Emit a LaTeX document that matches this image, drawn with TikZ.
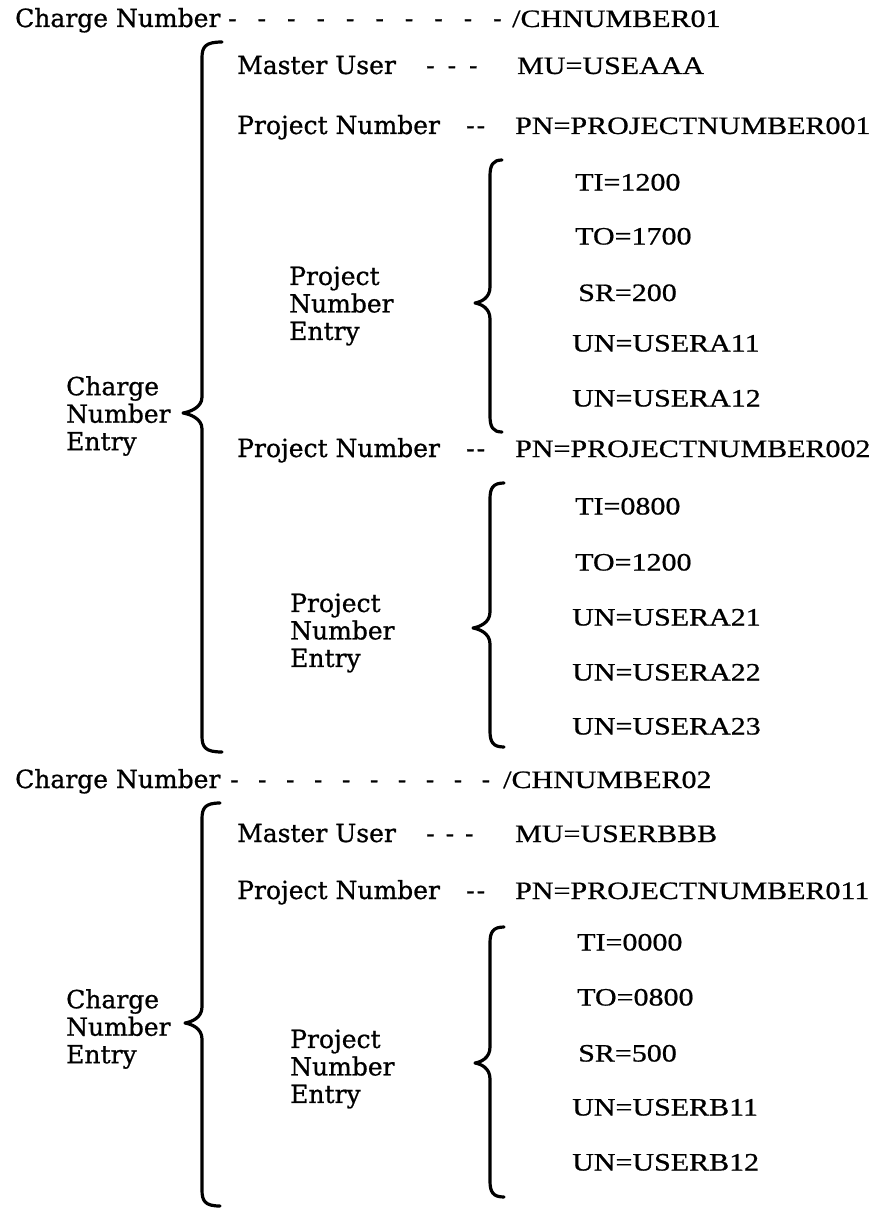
\documentclass[tikz,border=0pt]{standalone}
\usepackage{fontspec}
\newfontfamily\labfont[FakeBold=0.8]{DejaVu Serif}
\newfontfamily\valfont[FakeStretch=1.2,FakeBold=0.7]{Liberation Serif}
\newcommand\curlyb[6]{%
  \draw[brc] (#1+#5,#2) .. controls (#1+3,#2) and (#1,#2+5) .. (#1,#2+16)
    -- (#1,#3-16) .. controls (#1,#3-5) and (#1-#6+6,#3-1) .. (#1-#6,#3)
    .. controls (#1-#6+6,#3+1) and (#1,#3+5) .. (#1,#3+16)
    -- (#1,#4-16) .. controls (#1,#4-5) and (#1+3,#4) .. (#1+#5,#4);}
\tikzset{
  lab/.style={font=\labfont\fontsize{25}{27.5}\selectfont, anchor=base west, inner sep=0pt},
  lab3/.style={font=\labfont\fontsize{25}{27.5}\selectfont, anchor=west, inner sep=0pt, align=left},
  val/.style={font=\valfont\fontsize{25}{30}\selectfont, anchor=base west, inner sep=0pt},
  brc/.style={line width=3.2pt, line cap=round, line join=round},
}
\begin{document}
\begin{tikzpicture}[x=1pt,y=-1pt]
\useasboundingbox[fill=white] (0,0) rectangle (890,1209);

% ---------- first charge number ----------
\node[lab] (cn1) at (15,27) {Charge Number};
\node[lab] (cn1d) at (228,27) {\spaceskip=21pt\relax - - - - - - - - - -};
\node[val] (cn1v) at (512,27) {/CHNUMBER01};

\curlyb{202}{42}{413}{752}{20}{19}
\node[lab3] (cne1) at (66,416) {Charge\\Number\\Entry};

\node[lab] (mu1) at (237,74) {Master User};
\node[lab] (mu1d) at (426,74) {\spaceskip=13pt\relax - - -};
\node[val] (mu1v) at (517,74) {MU=USEAAA};

\node[lab] (pn1) at (237,134) {Project Number};
\node[lab] (pn1d) at (466,134) {-\kern2pt-};
\node[val] (pn1v) at (515,134) {PN=PROJECTNUMBER001};

\curlyb{490}{160}{303}{432}{12}{15}
\node[lab3] (pne1) at (289,306) {Project\\Number\\Entry};
\node[val] (a1) at (575,190.5) {TI=1200};
\node[val] (a2) at (575,244.5) {TO=1700};
\node[val] (a3) at (578,301) {SR=200};
\node[val] (a4) at (572,351.5) {UN=USERA11};
\node[val] (a5) at (572,406.5) {UN=USERA12};

\node[lab] (pn2) at (237,457) {Project Number};
\node[lab] (pn2d) at (466,457) {-\kern2pt-};
\node[val] (pn2v) at (515,457) {PN=PROJECTNUMBER002};

\curlyb{490}{483}{628}{747}{14}{17}
\node[lab3] (pne2) at (290,633) {Project\\Number\\Entry};
\node[val] (b1) at (575,514.5) {TI=0800};
\node[val] (b2) at (575,570.5) {TO=1200};
\node[val] (b3) at (572,625.5) {UN=USERA21};
\node[val] (b4) at (572,680.5) {UN=USERA22};
\node[val] (b5) at (572,734.5) {UN=USERA23};

% ---------- second charge number ----------
\node[lab] (cn2) at (15,788) {Charge Number};
\node[lab] (cn2d) at (230,788) {\spaceskip=19.5pt\relax - - - - - - - - - -};
\node[val] (cn2v) at (503,788) {/CHNUMBER02};

\curlyb{202}{803}{1023}{1206}{18}{17}
\node[lab3] (cne2) at (66,1029) {Charge\\Number\\Entry};

\node[lab] (mu2) at (237,842) {Master User};
\node[lab] (mu2d) at (426,842) {\spaceskip=11pt\relax - - -};
\node[val] (mu2v) at (515,842) {MU=USERBBB};

\node[lab] (pn3) at (237,899) {Project Number};
\node[lab] (pn3d) at (466,899) {-\kern2pt-};
\node[val] (pn3v) at (515,899) {PN=PROJECTNUMBER011};

\curlyb{490}{927}{1063}{1197}{14}{15}
\node[lab3] (pne3) at (290,1069) {Project\\Number\\Entry};
\node[val] (c1) at (577,950.5) {TI=0000};
\node[val] (c2) at (577,1005.5) {TO=0800};
\node[val] (c3) at (578,1061.5) {SR=500};
\node[val] (c4) at (572,1115.5) {UN=USERB11};
\node[val] (c5) at (572,1170.5) {UN=USERB12};
\end{tikzpicture}
\end{document}
